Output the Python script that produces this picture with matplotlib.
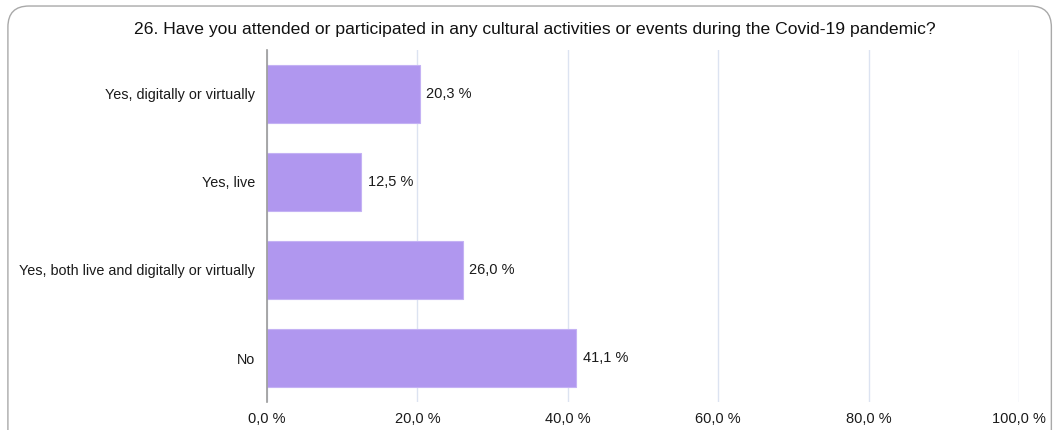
import matplotlib.pyplot as plt
from matplotlib.patches import FancyBboxPatch
import numpy as np

plt.rcParams['font.family'] = ['Liberation Sans', 'DejaVu Sans']

categories = ['Yes, digitally or virtually', 'Yes, live',
              'Yes, both live and digitally or virtually', 'No']
values = [20.3, 12.5, 26.0, 41.1]
ticks = [0, 20, 40, 60, 80, 100]

title = ('26. Have you attended or participated in any cultural activities '
         'or events during the Covid-19 pandemic?')

def pct(v):
    return f'{v:.1f} %'.replace('.', ',')

fig = plt.figure(figsize=(10.54, 4.3), dpi=100)

# rounded card behind the chart
card = FancyBboxPatch((0.0075, -0.2), 0.99, 1.186,
                      boxstyle='round,pad=0,rounding_size=0.02',
                      transform=fig.transFigure, facecolor='white',
                      edgecolor='#a9a9a9', linewidth=1.0,
                      mutation_aspect=1054 / 430, zorder=-10)
fig.patches.append(card)

ax = fig.add_axes([0.2533, 0.065, 0.7135, 0.819])
ax.set_facecolor('none')

y = np.arange(len(categories))
ax.barh(y, values, height=0.66, color='#b097ef', edgecolor='#c4b2f4',
        linewidth=0.8, zorder=3)

for yi, v in zip(y, values):
    ax.text(v + 0.9, yi, pct(v), va='center', ha='left', fontsize=10.5,
            color='#1a1a1a')

ax.set_xlim(0, 100)
ax.set_ylim(3.5, -0.5)
ax.set_xticks(ticks)
ax.set_xticklabels([pct(t) for t in ticks], fontsize=10.5, color='#1a1a1a')
ax.set_yticks(y)
ax.set_yticklabels(categories, fontsize=10.4, color='#1a1a1a')
ax.tick_params(axis='x', length=0, pad=7)
ax.tick_params(axis='y', length=0, pad=8.5)

ax.grid(axis='x', color='#dce3f1', linewidth=1.0, zorder=0)
for side in ['top', 'right', 'bottom']:
    ax.spines[side].set_visible(False)
ax.spines['left'].set_color('#9a9a9a')
ax.spines['left'].set_linewidth(1.2)
ax.spines['left'].set_zorder(4)

fig.text(0.507, 0.932, title, ha='center', va='center', fontsize=12.6,
         color='#111111')

fig.savefig('out.png', dpi=100)
